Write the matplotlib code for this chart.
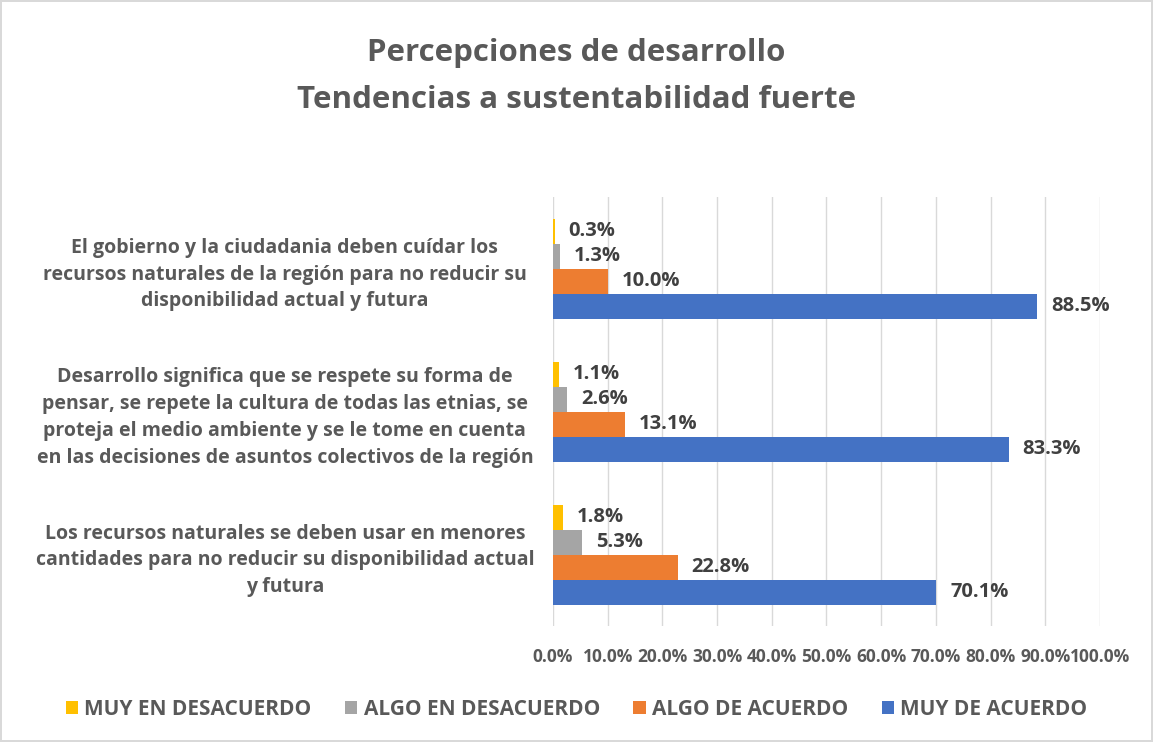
import numpy as np
import matplotlib.pyplot as plt

categories = [
    "El gobierno y la ciudadania deben cuídar los\nrecursos naturales de la región para no reducir su\ndisponibilidad actual y futura",
    "Desarrollo significa que se respete su forma de\npensar, se repete la cultura de todas las etnias, se\nproteja el medio ambiente y se le tome en cuenta\nen las decisiones de asuntos colectivos de la región",
    "Los recursos naturales se deben usar en menores\ncantidades para no reducir su disponibilidad actual\ny futura",
]
series_names = ["MUY EN DESACUERDO", "ALGO EN DESACUERDO", "ALGO DE ACUERDO", "MUY DE ACUERDO"]
muy_desacuerdo = [0.3, 1.1, 1.8]
algo_desacuerdo = [1.3, 2.6, 5.3]
algo_acuerdo = [10.0, 13.1, 22.8]
muy_acuerdo = [88.5, 83.3, 70.1]
colors = ["#FFC000", "#A5A5A5", "#ED7D31", "#4472C4"]
xticks = np.arange(0, 101, 10)

plt.rcParams['font.family'] = ['Open Sans', 'DejaVu Sans']
txt = "#595959"

fig = plt.figure(figsize=(11.53, 7.42), dpi=100)
fig.patch.set_edgecolor("#D9D9D9")
fig.patch.set_linewidth(1.5)
ax = fig.add_axes([0.4796, 0.1563, 0.4744, 0.578])

values = [muy_desacuerdo, algo_desacuerdo, algo_acuerdo, muy_acuerdo]
n = len(categories)
y = np.arange(n)[::-1].astype(float)  # first category on top
h = 0.175
for i, (vals, c, name) in enumerate(zip(values, colors, series_names)):
    ypos = y + (1.5 - i) * h
    ax.barh(ypos, vals, height=h, color=c, label=name)
    for yy, v in zip(ypos, vals):
        ax.annotate(f"{v:.1f}%", (v, yy), xytext=(10, 0), textcoords="offset points",
                    va="center", ha="left", fontsize=14.5, fontweight="bold", color="#404040")

ax.set_xlim(0, 100)
ax.set_ylim(-0.5, n - 0.5)
ax.set_xticks(xticks)
ax.set_xticklabels([f"{t:.1f}%" for t in xticks], fontsize=12.5, fontweight="bold", color=txt)
ax.set_yticks(y)
ax.set_yticklabels(categories, fontsize=14, fontweight="bold", color=txt,
                   ha="center", multialignment="center", linespacing=1.45)
ax.tick_params(axis="y", length=0, pad=193)
ax.tick_params(axis="x", length=0, pad=16)
ax.grid(axis="x", color="#D9D9D9", linewidth=1)
ax.set_axisbelow(True)
for s in ax.spines.values():
    s.set_visible(False)

fig.text(0.5, 0.897, "Percepciones de desarrollo\nTendencias a sustentabilidad fuerte",
         ha="center", va="center", fontsize=22.5, fontweight="bold", color=txt, linespacing=1.75)

leg = fig.legend(loc="center", bbox_to_anchor=(0.5, 0.044), ncol=4, frameon=False,
                 handlelength=0.6, handleheight=0.6, handletextpad=0.3, columnspacing=1.6,
                 prop={"size": 15, "weight": "bold"})
for t in leg.get_texts():
    t.set_color(txt)

fig.savefig("out.png", dpi=100)
